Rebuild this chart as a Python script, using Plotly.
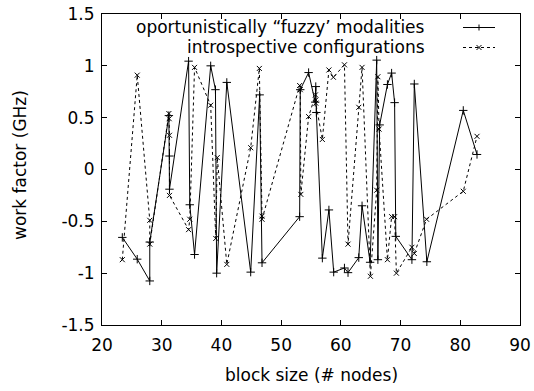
import plotly.graph_objects as go

# ---- data ----
series_names = ["oportunistically \u201cfuzzy\u2019 modalities", "introspective configurations"]

x_fuzzy = [23.4, 25.9, 28.0, 28.0, 31.2, 31.3, 31.3, 34.5, 34.7, 35.5, 38.2, 39.0, 39.2,
           40.9, 44.9, 46.4, 46.8, 53.1, 53.2, 54.6, 55.7, 55.8, 55.9, 56.9, 58.0, 58.8,
           60.6, 61.2, 63.0, 63.55, 64.9, 66.0, 66.2, 66.5, 67.8, 68.5, 69.0, 69.2, 71.9,
           72.3, 74.4, 80.5, 82.8]
y_fuzzy = [-0.655, -0.865, -1.075, -0.70, 0.52, 0.13, -0.19, 1.045, -0.34, -0.82, 1.0, 0.77, -1.0,
           0.84, -0.99, 0.72, -0.90, -0.455, 0.77, 0.935, 0.65, 0.80, 0.55, -0.855, -0.39, -0.99,
           -0.95, -0.995, -0.85, -0.35, -0.895, 1.055, -0.87, 0.43, 0.82, 0.93, 0.645, -0.645, -0.87,
           0.825, -0.89, 0.57, 0.145]

x_intro = [23.4, 25.9, 28.0, 28.0, 31.2, 31.25, 31.3, 31.3, 34.5, 34.7, 35.5, 38.2, 39.05,
           39.3, 40.9, 44.9, 46.35, 46.8, 46.8, 53.1, 53.2, 53.3, 54.6, 55.75, 55.8, 55.8,
           56.9, 58.0, 58.75, 60.6, 61.2, 63.0, 63.55, 64.95, 66.0, 66.2, 66.4, 67.8, 68.5,
           69.0, 69.3, 71.9, 72.3, 74.35, 80.5, 82.8]
y_intro = [-0.87, 0.91, -0.49, -0.72, 0.54, 0.49, 0.33, -0.25, -0.58, -0.48, 0.985, 0.62, -0.665,
           0.115, -0.915, 0.21, 0.975, -0.45, -0.48, 0.81, 0.77, -0.24, 0.51, 0.72, 0.67, 0.64,
           0.29, 0.96, 0.89, 1.01, -0.72, 0.60, 0.985, -1.03, -0.20, 0.895, 0.39, -0.87, -0.455,
           -0.455, -1.0, -0.75, -0.81, -0.48, -0.21, 0.32]

x_ticks = [20, 30, 40, 50, 60, 70, 80, 90]
y_ticks = [-1.5, -1, -0.5, 0, 0.5, 1, 1.5]
y_tick_text = ["-1.5", "-1", "-0.5", "0", "0.5", "1", "1.5"]
x_title = "block size (# nodes)"
y_title = "work factor (GHz)"

# ---- figure geometry ----
W, H = 534, 391
L, R, T, B = 102, 14, 14, 66
PW, PH = W - L - R, H - T - B
FONT = "DejaVu Sans, Liberation Sans, Arial, sans-serif"
FS = 17


def px(xp):
    return (xp - L) / PW


def py(yp):
    return (H - B - yp) / PH


fig = go.Figure()
fig.add_trace(go.Scatter(
    x=x_fuzzy, y=y_fuzzy, mode="lines+markers", name=series_names[0],
    line=dict(color="black", width=1),
    marker=dict(symbol="cross-thin", size=6, color="black", line=dict(color="black", width=1)),
))
fig.add_trace(go.Scatter(
    x=x_intro, y=y_intro, mode="lines+markers", name=series_names[1],
    line=dict(color="black", width=1, dash="3px,3px"),
    marker=dict(symbol="x-thin", size=5, color="black", line=dict(color="black", width=1)),
))

axis_common = dict(
    showline=True, mirror="ticks", linecolor="black", linewidth=1,
    ticks="inside", ticklen=5, tickwidth=1, tickcolor="black",
    showgrid=False, zeroline=False, automargin=False,
    tickfont=dict(family=FONT, size=FS, color="black"),
)

fig.update_layout(
    width=W, height=H,
    margin=dict(l=L, r=R, t=T, b=B, pad=0),
    paper_bgcolor="white", plot_bgcolor="white",
    showlegend=False,
    font=dict(family=FONT, size=FS, color="black"),
    xaxis=dict(range=[20, 90], tickvals=x_ticks, ticktext=[str(v) for v in x_ticks],
               ticklabelstandoff=5, **axis_common),
    yaxis=dict(range=[-1.5, 1.5], tickvals=y_ticks, ticktext=y_tick_text,
               ticklabelstandoff=3, **axis_common),
)

annotations = [
    dict(text=x_title, xref="paper", yref="paper", x=px(311), y=py(375),
         xanchor="center", yanchor="middle", showarrow=False,
         font=dict(family=FONT, size=FS, color="black")),
    dict(text=y_title, xref="paper", yref="paper", x=px(20), y=py(165),
         xanchor="center", yanchor="middle", showarrow=False, textangle=-90,
         font=dict(family=FONT, size=FS, color="black")),
]

# manual key (text right-justified, sample on the right, gnuplot style)
key_rows = [27, 47]
text_right = 427
samp_x0, samp_x1 = 463, 495
shapes = []
for i, yrow in enumerate(key_rows):
    annotations.append(dict(
        text=series_names[i], xref="paper", yref="paper", x=px(text_right), y=py(yrow),
        xanchor="right", yanchor="middle", showarrow=False,
        font=dict(family=FONT, size=FS, color="black")))
    shapes.append(dict(
        type="line", xref="paper", yref="paper",
        x0=px(samp_x0), x1=px(samp_x1), y0=py(yrow + 0.5), y1=py(yrow + 0.5),
        line=dict(color="black", width=1, dash="solid" if i == 0 else "3px,3px")))
    cx, cy, h = (samp_x0 + samp_x1) / 2, yrow + 0.5, 3
    if i == 0:
        segs = [((cx - h, cy), (cx + h, cy)), ((cx, cy - h), (cx, cy + h))]
    else:
        h = 2.5
        segs = [((cx - h, cy - h), (cx + h, cy + h)), ((cx - h, cy + h), (cx + h, cy - h))]
    for (a, b) in segs:
        shapes.append(dict(type="line", xref="paper", yref="paper",
                           x0=px(a[0]), y0=py(a[1]), x1=px(b[0]), y1=py(b[1]),
                           line=dict(color="black", width=1)))

fig.update_layout(annotations=annotations, shapes=shapes)
fig.write_html("out.html")
